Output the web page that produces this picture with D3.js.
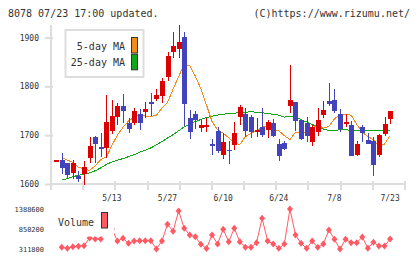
<!DOCTYPE html>
<html><head><meta charset="utf-8">
<script src="https://cdn.jsdelivr.net/npm/d3@7"></script>
<style>
html,body{margin:0;padding:0;background:#fff;}
svg{display:block;}
text{font-family:"DejaVu Sans Mono",monospace;fill:#333;}
</style></head>
<body>
<svg id="chart" width="420" height="259"></svg>
<script>
const dates = ["4/24","4/25","4/26","4/30","5/1","5/2","5/7","5/8","5/9","5/10",
"5/13","5/14","5/15","5/16","5/17","5/20","5/21","5/22","5/23","5/24",
"5/27","5/28","5/29","5/30","5/31","6/3","6/4","6/5","6/6","6/7",
"6/10","6/11","6/12","6/13","6/14","6/17","6/18","6/19","6/20","6/21",
"6/24","6/25","6/26","6/27","6/28","7/1","7/2","7/3","7/4","7/5",
"7/8","7/9","7/10","7/11","7/12","7/16","7/17","7/18","7/19","7/22","7/23"];
const opens  = [1649,1649,1642,1623,1616,1621,1654,1696,1675,1674,1708,1738,1760,1725,1724,1743,1747,1767,1774,1780,1820,1871,1876,1901,1735,1743,1715,1719,1681,1708,1660,1670,1680,1738,1743,1737,1706,1717,1711,1725,1682,1683,1760,1768,1732,1725,1685,1707,1742,1770,1771,1743,1722,1721,1660,1717,1691,1689,1660,1703,1733];
const highs  = [1649,1664,1643,1649,1627,1647,1696,1698,1705,1782,1772,1765,1785,1735,1755,1753,1768,1786,1795,1817,1870,1911,1925,1911,1751,1750,1731,1736,1693,1717,1704,1689,1727,1761,1755,1741,1735,1755,1731,1734,1693,1689,1843,1768,1732,1737,1721,1755,1769,1807,1795,1753,1743,1729,1688,1721,1704,1696,1702,1737,1749];
const lows   = [1649,1621,1611,1611,1604,1597,1644,1644,1655,1654,1702,1721,1725,1705,1720,1711,1736,1739,1769,1766,1810,1858,1858,1719,1693,1712,1707,1706,1660,1664,1651,1641,1670,1721,1696,1694,1696,1696,1695,1697,1648,1670,1745,1708,1690,1687,1678,1699,1736,1760,1745,1707,1717,1658,1657,1685,1682,1617,1656,1698,1723];
const closes = [1649,1633,1618,1643,1611,1634,1678,1682,1672,1727,1739,1760,1749,1713,1749,1725,1753,1764,1782,1811,1862,1882,1890,1763,1706,1732,1721,1720,1678,1668,1686,1667,1704,1758,1708,1706,1711,1701,1727,1699,1658,1672,1773,1730,1692,1699,1717,1732,1751,1764,1749,1713,1727,1658,1682,1705,1682,1639,1700,1723,1749];
const ma5  = [null,1654,1649,1644,1634,1631,1628,1637,1650,1655,1679,1700,1716,1729,1737,1742,1739,1738,1741,1755,1767,1794,1820,1845,1842,1821,1795,1762,1728,1711,1704,1695,1684,1681,1697,1704,1708,1717,1717,1710,1709,1699,1691,1706,1706,1705,1713,1722,1714,1718,1733,1743,1742,1741,1722,1706,1697,1691,1677,1682,1699];
const ma25 = [null,1608,1611,1615,1618,1620,1623,1627,1633,1640,1645,1649,1652,1656,1660,1665,1669,1674,1680,1687,1694,1701,1709,1717,1723,1728,1732,1736,1739,1741,1743,1744,1745,1746,1747,1748,1747,1746,1744,1743,1741,1737,1739,1737,1732,1727,1722,1717,1712,1710,1710,1711,1711,1710,1710,1710,1710,1710,1710,1710,1710];
const volumes = [null,358000,330600,373700,384500,400600,608000,581000,581000,931000,850000,527200,599800,465200,527200,535200,535200,535200,315000,527200,976700,788300,1334800,869000,688700,642900,438300,325300,688700,446400,842100,508300,869000,508300,357600,357600,481400,1138200,527200,446400,330600,446400,1388600,688700,465200,330600,527200,357600,446400,823300,572900,311800,572900,481400,481400,634800,330600,492200,392600,392600,581000];
const priceTicks = [1600,1700,1800,1900];
const volumeTicks = [311800,850200,1388600];
const dateLabels = ["5/13","5/27","6/10","6/24","7/8","7/23"];
const legendItems = ["5-day MA","25-day MA"];

const C_UP="#dd0000", C_DN="#4343bb", C_MA5="#f08c1e", C_MA25="#10a818", C_VOL="#ff5a64", C_AX="#dddddd";
const svg = d3.select("#chart");

svg.append("text").attr("x",8).attr("y",16.5).attr("font-size",10).text("8078 07/23 17:00 updated.");
svg.append("text").attr("x",410).attr("y",16.5).attr("font-size",10).attr("text-anchor","end").text("(C)https://www.rizumu.net/");

const x = d3.scalePoint().domain(dates).range([56.2,390.1]);
const y = d3.scaleLinear().domain([1600,1900]).range([184,37.5]);
const yv = d3.scaleLinear().domain([311800,1388600]).range([249,209]);

// axes
const grid = d3.scaleLinear().domain([0,11]).range([51,405]);
svg.append("line").attr("x1",51).attr("x2",51).attr("y1",25).attr("y2",190).attr("stroke",C_AX).attr("stroke-width",2);
svg.append("line").attr("x1",51).attr("x2",405).attr("y1",184).attr("y2",184).attr("stroke",C_AX).attr("stroke-width",2);
svg.append("g").selectAll("line").data(d3.range(1,12)).join("line")
  .attr("x1",d=>Math.round(grid(d))).attr("x2",d=>Math.round(grid(d))).attr("y1",181).attr("y2",190)
  .attr("stroke",C_AX).attr("stroke-width",2);
const ya = svg.append("g").attr("transform","translate(53,0)")
  .call(d3.axisLeft(y).tickValues(priceTicks).tickSize(8).tickPadding(6).tickFormat(d3.format("d")));
ya.select(".domain").remove();
ya.selectAll(".tick line").attr("stroke",C_AX).attr("stroke-width",2);
ya.selectAll(".tick text").attr("font-size",8).attr("font-family","DejaVu Sans Mono").attr("fill","#333");

// MA lines
const line = d3.line().defined(d=>d.v!=null).x(d=>x(d.d)).y(d=>y(d.v));
svg.append("path").datum(dates.map((d,i)=>({d,v:ma25[i]}))).attr("d",line)
  .attr("fill","none").attr("stroke",C_MA25).attr("stroke-width",1).attr("shape-rendering","crispEdges");
svg.append("path").datum(dates.map((d,i)=>({d,v:ma5[i]}))).attr("d",line)
  .attr("fill","none").attr("stroke",C_MA5).attr("stroke-width",1).attr("shape-rendering","crispEdges");

// candles
const cg = svg.append("g").attr("shape-rendering","crispEdges");
const idx = d3.range(dates.length);
cg.selectAll("line.w").data(idx).join("line").attr("class","w")
  .attr("x1",i=>Math.round(x(dates[i]))+0.5).attr("x2",i=>Math.round(x(dates[i]))+0.5)
  .attr("y1",i=>y(highs[i])).attr("y2",i=>y(lows[i]))
  .attr("stroke",i=>closes[i]>=opens[i]?C_UP:C_DN).attr("stroke-width",1);
cg.selectAll("rect.b").data(idx).join("rect").attr("class","b")
  .attr("x",i=>Math.round(x(dates[i]))-2).attr("width",5)
  .attr("y",i=>y(Math.max(opens[i],closes[i])))
  .attr("height",i=>Math.max(1.5,Math.abs(y(opens[i])-y(closes[i]))))
  .attr("fill",i=>closes[i]>=opens[i]?C_UP:C_DN);

// legend
svg.append("rect").attr("x",65.5).attr("y",30).attr("width",78).attr("height",47)
  .attr("fill","#fff").attr("stroke",C_AX).attr("stroke-width",2);
svg.append("g").selectAll("text").data(legendItems).join("text")
  .attr("x",125).attr("y",(d,i)=>49.5+i*16.7).attr("font-size",10).attr("text-anchor","end").text(d=>d);
svg.append("g").selectAll("rect").data([C_MA5,C_MA25]).join("rect")
  .attr("x",131.5).attr("y",(d,i)=>37.5+i*16.8).attr("width",6).attr("height",15.5)
  .attr("fill",d=>d).attr("stroke","#333").attr("stroke-width",1);

// date labels
svg.append("g").selectAll("text").data(dateLabels).join("text")
  .attr("x",d=>x(d)).attr("y",201).attr("font-size",8).attr("text-anchor","middle").text(d=>d);

// volume labels
svg.append("g").selectAll("text").data(volumeTicks).join("text")
  .attr("x",44).attr("y",d=>yv(d)+3).attr("font-size",7).attr("text-anchor","end").text(d=>d);

// volume series
const vline = d3.line().defined(d=>d.v!=null).x(d=>x(d.d)).y(d=>yv(d.v));
const vdata = dates.map((d,i)=>({d,v:volumes[i]}));
svg.append("path").datum(vdata).attr("d",vline).attr("fill","none").attr("stroke",C_VOL).attr("stroke-width",1);
svg.append("g").selectAll("path").data(vdata.filter(d=>d.v!=null)).join("path")
  .attr("transform",d=>`translate(${x(d.d)},${yv(d.v)})`)
  .attr("d","M0,-3.5L3,0L0,3.5L-3,0Z").attr("fill",C_VOL);

// volume legend
svg.append("rect").attr("x",54).attr("y",205).attr("width",60).attr("height",31.5).attr("fill","#fff");
svg.append("text").attr("x",58).attr("y",225.5).attr("font-size",10).text("Volume");
svg.append("rect").attr("x",101.5).attr("y",212.5).attr("width",6).attr("height",15.5)
  .attr("fill",C_VOL).attr("stroke","#333").attr("stroke-width",1);
</script>
</body></html>
